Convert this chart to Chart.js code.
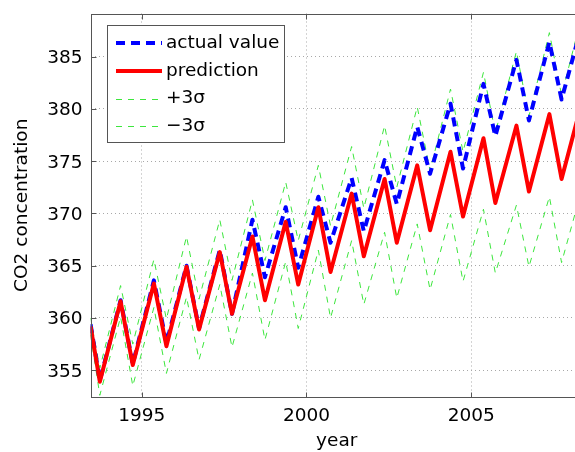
<!DOCTYPE html>
<html>
<head>
<meta charset="utf-8">
<title>CO2 concentration</title>
<script src="https://cdn.jsdelivr.net/npm/chart.js@4.4.1/dist/chart.umd.min.js"></script>
<style>
  html, body { margin: 0; padding: 0; overflow: hidden; background: #fff; }
  #wrap { position: relative; width: 590px; height: 452px; }
</style>
</head>
<body>
<div id="wrap"><canvas id="co2"></canvas></div>
<script>
// sample times (seasonal peaks in May, troughs in Sep/Oct)
const years = [
  1993.45, 1993.73, 1994.36, 1994.73, 1995.37, 1995.75, 1996.36, 1996.74,
  1997.37, 1997.74, 1998.36, 1998.74, 1999.37, 1999.75, 2000.36, 2000.73,
  2001.37, 2001.74, 2002.37, 2002.74, 2003.36, 2003.75, 2004.37, 2004.75,
  2005.37, 2005.73, 2006.37, 2006.75, 2007.37, 2007.74, 2008.37
];

const actual = [
  359.4, 354.0, 361.7, 355.6, 363.6, 357.6, 365.0, 359.0,
  366.5, 360.4, 369.4, 363.9, 370.6, 364.8, 371.6, 367.2,
  373.4, 368.3, 375.1, 370.9, 378.3, 373.8, 380.5, 374.3,
  382.4, 377.4, 384.7, 378.9, 386.4, 380.9, 388.2
];

const prediction = [
  359.2, 353.9, 361.6, 355.5, 363.3, 357.3, 364.9, 358.9,
  366.3, 360.4, 367.8, 361.7, 369.2, 363.2, 370.6, 364.4,
  371.9, 365.9, 373.3, 367.2, 374.6, 368.4, 375.9, 369.7,
  377.2, 371.0, 378.4, 372.1, 379.5, 373.3, 380.8
];

const plus3s = [
  360.0, 355.2, 363.1, 357.5, 365.6, 359.9, 367.8, 361.8,
  369.4, 363.6, 371.3, 365.5, 373.0, 367.4, 374.6, 368.8,
  376.4, 370.5, 378.4, 372.5, 380.2, 374.1, 381.9, 375.9,
  383.5, 377.7, 385.5, 379.3, 387.3, 381.3, 389.1
];

const minus3s = [
  358.4, 352.6, 360.1, 353.5, 361.0, 354.7, 362.0, 356.0,
  363.2, 357.2, 364.3, 357.9, 365.4, 359.0, 366.5, 360.0,
  367.4, 361.3, 368.2, 361.9, 369.0, 362.7, 369.9, 363.5,
  370.4, 364.3, 370.8, 364.9, 371.6, 365.3, 372.5
];

const xTicks = [1995, 2000, 2005];
const yTicks = [355, 360, 365, 370, 375, 380, 385];

const FONT = 'DejaVu Sans';
const AXIS_COLOR = '#555';

function toPoints(values) {
  return values.map((v, i) => ({ x: years[i], y: v }));
}

// box around the axes, inward tick marks and the legend
const framePlugin = {
  id: 'frame',
  afterDatasetsDraw(chart) {
    const { ctx, chartArea: a, scales } = chart;
    const l = Math.round(a.left) + 0.5, r = Math.round(a.right) + 0.5;
    const t = Math.round(a.top) + 0.5, b = Math.round(a.bottom) + 0.5;
    ctx.save();
    ctx.strokeStyle = AXIS_COLOR;
    ctx.lineWidth = 1;
    ctx.strokeRect(l, t, r - l, b - t);
    ctx.beginPath();
    xTicks.forEach(v => {
      const px = Math.round(scales.x.getPixelForValue(v)) + 0.5;
      ctx.moveTo(px, b); ctx.lineTo(px, b - 5);
      ctx.moveTo(px, t); ctx.lineTo(px, t + 5);
    });
    yTicks.forEach(v => {
      const py = Math.round(scales.y.getPixelForValue(v)) + 0.5;
      ctx.moveTo(l, py); ctx.lineTo(l + 5, py);
      ctx.moveTo(r, py); ctx.lineTo(r - 5, py);
    });
    ctx.stroke();
    ctx.restore();
  },
  afterDraw(chart) {
    const { ctx } = chart;
    const order = [1, 0, 2, 3];
    const box = { x: 107.5, y: 25.5, w: 177, h: 117 };
    ctx.save();
    ctx.fillStyle = '#fff';
    ctx.fillRect(box.x, box.y, box.w, box.h);
    ctx.strokeStyle = AXIS_COLOR;
    ctx.lineWidth = 1;
    ctx.strokeRect(box.x, box.y, box.w, box.h);
    ctx.font = '18.5px "' + FONT + '"';
    ctx.textBaseline = 'middle';
    ctx.fillStyle = '#000';
    order.forEach((idx, row) => {
      const ds = chart.data.datasets[idx];
      const cy = 43 + row * 27.8;
      const ly = Math.round(cy) + (ds.borderWidth % 2 ? 0.5 : 0);
      ctx.beginPath();
      ctx.strokeStyle = ds.borderColor;
      ctx.lineWidth = ds.borderWidth;
      ctx.setLineDash(ds.borderDash || []);
      ctx.moveTo(116, ly);
      ctx.lineTo(162, ly);
      ctx.stroke();
      ctx.setLineDash([]);
      ctx.fillText(ds.label, 166, cy);
    });
    ctx.restore();
  }
};

const lineStyle = { pointRadius: 0, tension: 0, fill: false, borderCapStyle: 'butt', borderJoinStyle: 'round' };

new Chart(document.getElementById('co2'), {
  type: 'line',
  data: {
    datasets: [
      { label: 'prediction', data: toPoints(prediction), borderColor: '#ff0000', borderWidth: 4, ...lineStyle },
      { label: 'actual value', data: toPoints(actual), borderColor: '#0000ff', borderWidth: 4, borderDash: [9, 6], ...lineStyle },
      { label: '+3\u03c3', data: toPoints(plus3s), borderColor: '#3de63d', borderWidth: 1, borderDash: [6, 6], ...lineStyle },
      { label: '\u22123\u03c3', data: toPoints(minus3s), borderColor: '#3de63d', borderWidth: 1, borderDash: [6, 6], ...lineStyle }
    ]
  },
  options: {
    responsive: true,
    maintainAspectRatio: false,
    animation: false,
    parsing: false,
    layout: { padding: { left: 0, top: 13.5, right: 7, bottom: 0 } },
    plugins: { legend: { display: false }, tooltip: { enabled: false } },
    font: { family: FONT },
    scales: {
      x: {
        type: 'linear',
        min: 1993.447,
        max: 2008.39,
        afterBuildTicks: s => { s.ticks = xTicks.map(v => ({ value: v })); },
        afterFit: s => { s.height = 55; s.paddingLeft = 0; s.paddingRight = 0; },
        grid: { color: '#a8a8a8', lineWidth: 1, drawTicks: false },
        border: { display: false, dash: [1, 3] },
        ticks: {
          padding: 8,
          color: '#000',
          font: { family: FONT, size: 18.5 },
          maxRotation: 0,
          callback: v => String(v)
        },
        title: { display: true, text: 'year', color: '#000', font: { family: FONT, size: 18.5 }, padding: { top: 0, bottom: 0 } }
      },
      y: {
        type: 'linear',
        min: 352.44,
        max: 389.13,
        afterBuildTicks: s => { s.ticks = yTicks.map(v => ({ value: v })); },
        afterFit: s => { s.width = 90.5; s.paddingTop = 0; s.paddingBottom = 0; },
        grid: { color: '#a8a8a8', lineWidth: 1, drawTicks: false },
        border: { display: false, dash: [1, 3] },
        ticks: {
          padding: 8,
          labelOffset: 1.5,
          color: '#000',
          font: { family: FONT, size: 18.5 },
          callback: v => String(v)
        },
        title: { display: true, text: 'CO2 concentration', color: '#000', font: { family: FONT, size: 18.5 }, padding: { top: 11, bottom: 0 } }
      }
    }
  },
  plugins: [framePlugin]
});
</script>
</body>
</html>
